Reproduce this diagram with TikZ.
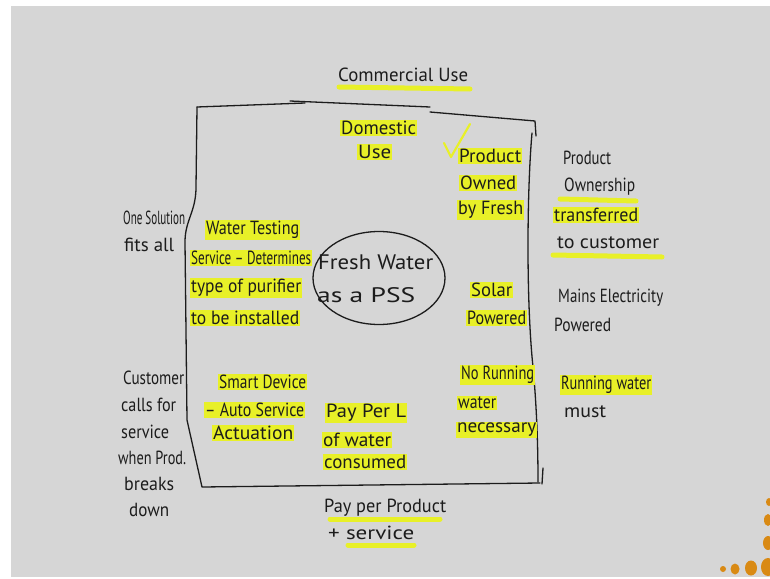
\documentclass[tikz,border=0pt]{standalone}
\usepackage{fontspec}
\setmainfont{PT Sans}
\usetikzlibrary{shapes.geometric}
\definecolor{board}{RGB}{214,214,214}
\definecolor{ink}{RGB}{28,28,28}
\definecolor{hl}{RGB}{232,240,40}
\definecolor{dot}{RGB}{217,138,20}
% set a word to a given width, keeping its height
\newcommand\hw[2]{\resizebox{#1pt}{\height}{#2}}
\begin{document}
\begin{tikzpicture}[x=1pt,y=-1pt,
  every node/.style={text=ink, font=\fontsize{19}{21}\selectfont, inner sep=1pt},
  plain/.style={anchor=west},
  marked/.style={anchor=west, fill=hl},
  pen/.style={draw=ink, line width=1.3pt, line cap=round, line join=round},
  marker/.style={draw=hl, line width=5pt, line cap=round},
  bead/.style={fill=dot}]
\useasboundingbox (0,0) rectangle (770,578);
\fill[white] (0,0) rectangle (770,578);
\fill[board] (11,6) rectangle (770,577);

% the frame around the domestic offer
\draw[pen] (197,107) -- (305,103);
\draw[pen] (290,101) -- (430,107);
\draw[pen] (430,112) -- (535,121) -- (536,136);
\draw[pen] (197,107) -- (196,187) .. controls (196,212) and (185,220) .. (185,242)
           -- (187,420) -- (202,487) -- (540,483);
\draw[pen] (532,133) .. controls (527,190) and (526,300) .. (533,367)
           .. controls (537,410) and (538,450) .. (538,482);
\draw[pen] (543,468) -- (542,484);

% top and bottom labels
\draw[marker] (339,87) -- (470,89);
\node (cu) [plain] at (337,75) {\hw{130}{Commercial Use}};
\node (dom1) [marked] at (340,128) {\hw{75}{Domestic}};
\node (dom2) [marked] at (357,152) {\hw{33}{Use}};

% ownership
\draw[draw=hl, line width=2.2pt, line cap=round, line join=round] (444,143) -- (451,157) -- (470,124);
\node (own1) [marked] at (458,156) {\hw{62}{Product}};
\node (own2) [marked] at (459,183) {\hw{56}{Owned}};
\node (own3) [marked] at (457,210) {\hw{65}{by Fresh}};
\node (tr1) [plain] at (562,158) {\hw{48}{Product}};
\draw[marker] (560,199) -- (636,201);
\node (tr2) [plain] at (563,187) {\hw{71}{Ownership}};
\node (tr3) [marked] at (553,215) {\hw{84}{transferred}};
\draw[marker] (553,255) -- (662,257);
\node (tr4) [plain] at (556,243) {\hw{102}{to customer}};

% the service
\node (one1) [plain] at (122,218) {\hw{62}{One Solution}};
\node (one2) [plain] at (123,245) {\hw{50}{fits all}};
\node (wt1) [marked] at (205,230) {\hw{93}{Water Testing}};
\node (wt2) [marked] at (190,258) {\hw{120}{Service -- Determines}};
\node (wt3) [marked] at (190,288) {\hw{110}{type of purifier}};
\node (wt4) [marked] at (190,318) {\hw{108}{to be installed}};

% the offer itself
\node (pss) [ellipse, draw=ink, line width=1.3pt, minimum width=132pt, minimum height=93pt] at (379,278) {};
\node (pss1) [plain, font=\fontsize{21}{23}\selectfont] at (317,262) {\hw{115}{Fresh Water}};
\node (pss2) [plain, font=\fontsize{21}{23}\selectfont] at (316,295) {\hw{98}{as a PSS}};

% energy
\node (so1) [marked] at (470,290) {\hw{41}{Solar}};
\node (so2) [marked] at (466,318) {\hw{59}{Powered}};
\node (ma1) [plain] at (557,298) {\hw{105}{Mains Electricity}};
\node (ma2) [plain] at (553,325) {\hw{57}{Powered}};

% upkeep and payment
\node (cc1) [plain] at (122,378) {\hw{61}{Customer}};
\node (cc2) [plain] at (120,405) {\hw{55}{calls for}};
\node (cc3) [plain] at (120,432) {\hw{48}{service}};
\node (cc4) [plain] at (117,458) {\hw{68}{when Prod.}};
\node (cc5) [plain] at (123,484) {\hw{50}{breaks}};
\node (cc6) [plain] at (128,510) {\hw{40}{down}};
\node (sd1) [marked] at (218,382) {\hw{87}{Smart Device}};
\node (sd2) [marked] at (204,410) {\hw{99}{-- Auto Service}};
\node (sd3) [marked] at (212,433) {\hw{80}{Actuation}};
\node (pl1) [marked] at (325,413) {\hw{80}{Pay Per L}};
\node (pl2) [marked] at (322,440) {\hw{68}{of water}};
\node (pl3) [marked] at (323,462) {\hw{82}{consumed}};
\node (nr1) [marked] at (460,375) {\hw{73}{No Running}};
\node (nr2) [marked] at (457,403) {\hw{38}{water}};
\node (nr3) [marked] at (456,430) {\hw{79}{necessary}};
\node (rw1) [marked] at (560,385) {\hw{90}{Running water}};
\node (rw2) [plain] at (563,412) {\hw{42}{must}};
\draw[marker] (330,519) -- (440,519);
\node (pp1) [plain] at (323,508) {\hw{122}{Pay per Product}};
\draw[marker] (348,545) -- (414,545);
\node (pp2) [plain] at (327,533) {\hw{86}{+ service}};

% corner ornament
\fill[bead] (723,569) circle (3pt);
\fill[bead] (735,569) ellipse [x radius=4.5pt, y radius=5.5pt];
\fill[bead] (751,568) ellipse [x radius=6pt, y radius=7.5pt];
\fill[bead] (768,567) ellipse [x radius=7pt, y radius=9pt];
\fill[bead] (768,543) ellipse [x radius=5pt, y radius=7pt];
\fill[bead] (768,520) ellipse [x radius=4pt, y radius=6pt];
\fill[bead] (769,502) ellipse [x radius=3pt, y radius=4pt];
\end{tikzpicture}
\end{document}
